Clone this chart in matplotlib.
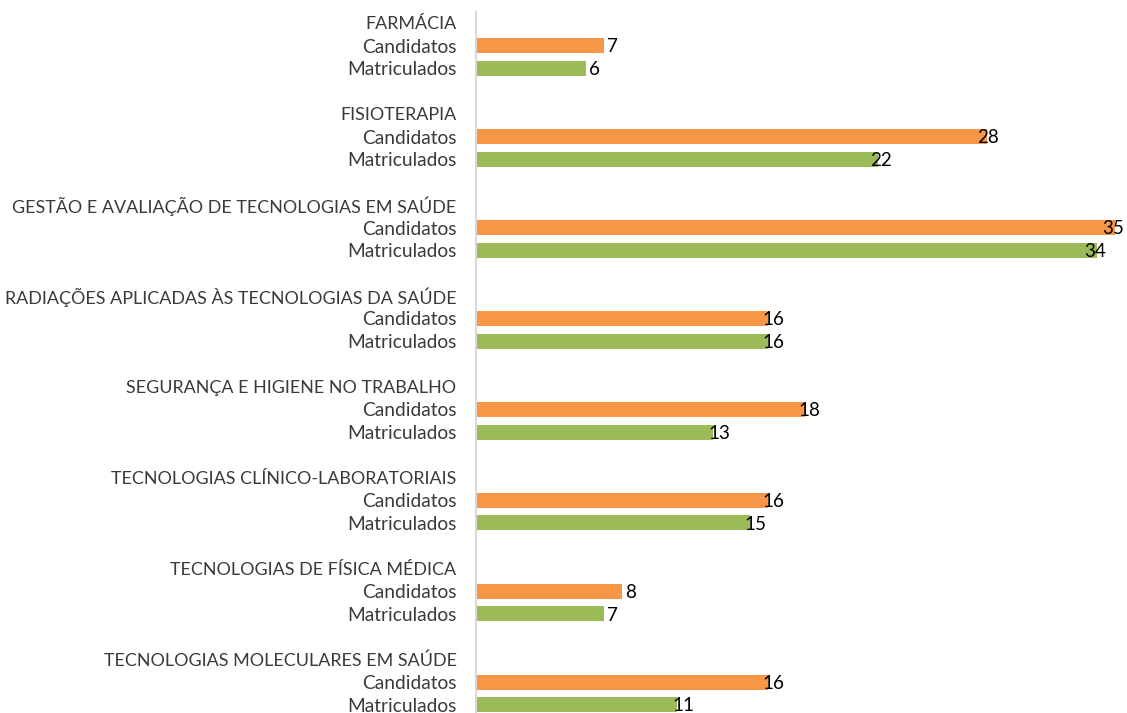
import numpy as np
import matplotlib
matplotlib.use("Agg")
from matplotlib import pyplot as plt

# Data
cursos = ["FARMÁCIA",
          "FISIOTERAPIA",
          "GESTÃO E AVALIAÇÃO DE TECNOLOGIAS EM SAÚDE",
          "RADIAÇÕES APLICADAS ÀS TECNOLOGIAS DA SAÚDE",
          "SEGURANÇA E HIGIENE NO TRABALHO",
          "TECNOLOGIAS CLÍNICO-LABORATORIAIS",
          "TECNOLOGIAS DE FÍSICA MÉDICA",
          "TECNOLOGIAS MOLECULARES EM SAÚDE"]
candidatos = [7, 28, 35, 16, 18, 16, 8, 16]
matriculados = [6, 22, 34, 16, 13, 15, 7, 11]
series = ["Candidatos", "Matriculados"]

cor_cand = "#F79646"
cor_matr = "#9BBB59"

plt.rcParams['font.family'] = ['Lato', 'DejaVu Sans']

fig = plt.figure(figsize=(11.27, 7.13), dpi=100)
# axes placed in pixel fractions
ax = fig.add_axes([476/1127, 0.0, 650/1127, (713-11.6)/713])

n = len(cursos)
yTicks = []
yLabels = []
for i in range(n):
    base = 4*i
    yTicks += [base, base+1, base+2]
    yLabels += [cursos[i], series[0], series[1]]
    ax.barh(base+1, candidatos[i], height=0.66, color=cor_cand)
    ax.barh(base+2, matriculados[i], height=0.66, color=cor_matr)
    for v, y in [(candidatos[i], base+1), (matriculados[i], base+2)]:
        ax.text(0.6 + 0.98*v, y + 0.05, "{}".format(v), ha="center",
                va="center", fontsize=13.5, color="black")

ax.set_xlim(0, 35.6)
ax.set_ylim(30.36, -0.5)
ax.set_yticks(yTicks)
ax.set_yticklabels(yLabels, color="#3A3A3A")
# course names a bit smaller than the series names
for k, lbl in enumerate(ax.get_yticklabels()):
    if k % 3 == 0:
        lbl.set_fontsize(12.9)
    else:
        lbl.set_fontsize(13.8)
ax.tick_params(axis="y", length=0, pad=14)
ax.set_xticks([])
for s in ["top", "right", "bottom"]:
    ax.spines[s].set_visible(False)
ax.spines["left"].set_color("#D9D9D9")
ax.spines["left"].set_linewidth(1.5)

fig.savefig("out.png", dpi=100)
